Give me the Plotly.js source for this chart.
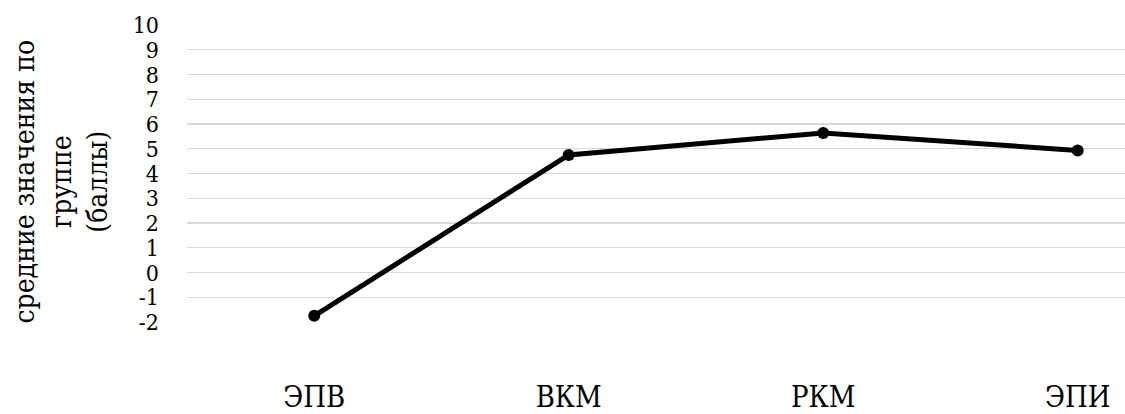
<!DOCTYPE html>
<html>
<head>
<meta charset="utf-8">
<script src="https://cdn.plot.ly/plotly-3.0.1.min.js"></script>
<style>
html, body { margin: 0; padding: 0; background: #fff; overflow: hidden; }
#chart { width: 1125px; height: 414px; }
</style>
</head>
<body>
<div id="chart"></div>
<script>
const categories = ["ЭПВ", "ВКМ", "РКМ", "ЭПИ"];
const values = [-1.75, 4.75, 5.64, 4.93];
const yTickValues = [-2, -1, 0, 1, 2, 3, 4, 5, 6, 7, 8, 9, 10];
const yTitleLines = ["средние значения по", "группе", "(баллы)"];

const serif = "DejaVu Serif Condensed, DejaVu Serif";

const trace = {
  type: "scatter",
  mode: "lines+markers",
  x: categories,
  y: values,
  line: { color: "#000000", width: 5 },
  marker: { color: "#000000", size: 12 },
  hoverinfo: "skip",
  cliponaxis: false
};

const layout = {
  width: 1125,
  height: 414,
  margin: { l: 187, r: 0, t: 25, b: 92 },
  paper_bgcolor: "#ffffff",
  plot_bgcolor: "#ffffff",
  showlegend: false,
  font: { family: serif, color: "#000000" },
  xaxis: {
    type: "category",
    range: [-0.5, 3.186],
    showgrid: false,
    zeroline: false,
    showline: false,
    ticks: "",
    ticklabelstandoff: 55,
    tickfont: { family: serif, size: 29, color: "#000000" },
    fixedrange: true
  },
  yaxis: {
    range: [-2, 10],
    tickvals: yTickValues,
    ticktext: yTickValues.map(String),
    showgrid: true,
    gridcolor: "#d9d9d9",
    gridwidth: 1.3,
    zeroline: false,
    showline: false,
    ticks: "",
    ticklabelstandoff: 27,
    tickfont: { family: serif, size: 23, color: "#000000" },
    fixedrange: true
  },
  annotations: [{
    text: yTitleLines.join("<br>"),
    textangle: -90,
    xref: "paper",
    yref: "paper",
    x: -0.1338,
    y: 0.4747,
    xanchor: "center",
    yanchor: "middle",
    showarrow: false,
    font: { family: serif, size: 28, color: "#000000" }
  }]
};

Plotly.newPlot("chart", [trace], layout, { displayModeBar: false, staticPlot: true });
</script>
</body>
</html>
